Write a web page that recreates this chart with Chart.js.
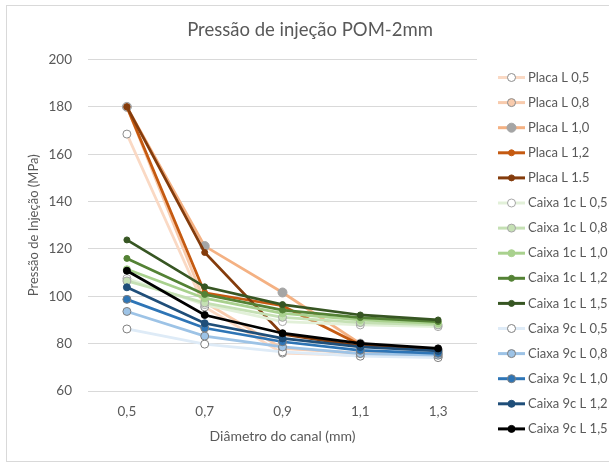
<!DOCTYPE html>
<html>
<head>
<meta charset="utf-8">
<script src="https://cdn.jsdelivr.net/npm/chart.js@4.4.1/dist/chart.umd.min.js"></script>
<style>
  html, body { margin: 0; padding: 0; background: #fff; }
</style>
</head>
<body>
<canvas id="grafico" width="609" height="463"></canvas>
<script>
// diâmetros do canal (eixo x)
const diametros = ['0,5', '0,7', '0,9', '1,1', '1,3'];

// pressão de injeção (MPa)
const placaL05 = [168.5, 95.5, 76, 75, 74.5];
const placaL08 = [180, 97.5, 78, 76, 75.5];
const placaL10 = [180, 121.2, 101.6, 80, 77];
const placaL12 = [180, 101.5, 96, 79.5, 77.5];
const placaL15 = [180, 118.5, 84, 79, 77.5];

const caixa1cL05 = [107.5, 96.5, 89.3, 87.9, 87.2];
const caixa1cL08 = [106.5, 97.2, 91.1, 88.9, 87.9];
const caixa1cL10 = [111.4, 99.2, 92.8, 90, 88.6];
const caixa1cL12 = [116, 100.8, 94.2, 91, 89.3];
const caixa1cL15 = [123.8, 104, 96.5, 92.1, 90];

const caixa9cL05 = [86.2, 79.8, 76.5, 74.7, 74.1];
const caixa9cL08 = [93.6, 83.2, 78.6, 75.8, 75.1];
const caixa9cL10 = [98.7, 86.6, 80.8, 77.2, 75.9];
const caixa9cL12 = [103.8, 88.6, 82.2, 78.6, 76.9];
const caixa9cL15 = [110.8, 92.1, 84.4, 80.1, 78];

const titulo = 'Pressão de injeção POM-2mm';
const fonte = 'Lato';
const corTexto = '#595959';

function serie(label, data, linha, fundo, borda, raio) {
  return {
    label: label,
    data: data,
    borderColor: linha,
    backgroundColor: linha,
    borderWidth: 2.75,
    pointRadius: raio,
    pointBackgroundColor: fundo,
    pointBorderColor: borda,
    pointBorderWidth: 1,
    tension: 0,
    fill: false
  };
}

const series = [
  serie('Placa L 0,5', placaL05, '#FAD9C4', '#ffffff', '#8c8c8c', 4),
  serie('Placa L 0,8', placaL08, '#F8CBAD', '#F8CBAD', '#8c8c8c', 4),
  serie('Placa L 1,0', placaL10, '#F4B183', '#A5A5A5', '#A5A5A5', 4.5),
  serie('Placa L 1,2', placaL12, '#C55A11', '#C55A11', '#C55A11', 3),
  serie('Placa L 1.5', placaL15, '#843C0C', '#843C0C', '#843C0C', 3),
  serie('Caixa 1c L 0,5', caixa1cL05, '#E2F0D9', '#ffffff', '#a6a6a6', 4),
  serie('Caixa 1c L 0,8', caixa1cL08, '#C5E0B4', '#C5E0B4', '#a6a6a6', 4),
  serie('Caixa 1c L 1,0', caixa1cL10, '#A9D18E', '#A9D18E', '#A9D18E', 3.5),
  serie('Caixa 1c L 1,2', caixa1cL12, '#548235', '#548235', '#548235', 3),
  serie('Caixa 1c L 1,5', caixa1cL15, '#375623', '#375623', '#375623', 3),
  serie('Caixa 9c L 0,5', caixa9cL05, '#DEEBF7', '#ffffff', '#7f7f7f', 4),
  serie('Ciaxa 9c L 0,8', caixa9cL08, '#9DC3E6', '#9DC3E6', '#7f7f7f', 4),
  serie('Caixa 9c L 1,0', caixa9cL10, '#2E75B6', '#2E75B6', '#7f7f7f', 4),
  serie('Caixa 9c L 1,2', caixa9cL12, '#1F4E79', '#1F4E79', '#1F4E79', 3.5),
  serie('Caixa 9c L 1,5', caixa9cL15, '#000000', '#000000', '#000000', 3.5)
];
// como no Excel: a primeira série fica por baixo
series.forEach((s, i) => { s.order = series.length - i; });

// título centrado no gráfico todo, legenda à direita e moldura
const legendaLateral = {
  id: 'legendaLateral',
  afterDraw(chart) {
    const ctx = chart.ctx;
    ctx.save();
    ctx.fillStyle = corTexto;
    ctx.font = '18.5px ' + fonte;
    ctx.textAlign = 'center';
    ctx.textBaseline = 'middle';
    ctx.fillText(titulo, 310, 30);

    chart.data.datasets.forEach((ds, i) => {
      const y = 77.5 + i * 25.1;
      ctx.strokeStyle = ds.borderColor;
      ctx.lineWidth = 3;
      ctx.beginPath();
      ctx.moveTo(498, y);
      ctx.lineTo(525, y);
      ctx.stroke();
      ctx.beginPath();
      ctx.arc(511.5, y, ds.pointRadius, 0, Math.PI * 2);
      ctx.fillStyle = ds.pointBackgroundColor;
      ctx.fill();
      ctx.lineWidth = 1;
      ctx.strokeStyle = ds.pointBorderColor;
      ctx.stroke();
      ctx.fillStyle = corTexto;
      ctx.font = '13px ' + fonte;
      ctx.textBaseline = 'middle';
      ctx.textAlign = 'left';
      ctx.fillText(ds.label, 528, y);
    });
    ctx.strokeStyle = '#d9d9d9';
    ctx.lineWidth = 1;
    ctx.strokeRect(6.5, 5.5, 700, 456);
    ctx.restore();
  }
};

new Chart(document.getElementById('grafico'), {
  type: 'line',
  data: { labels: diametros, datasets: series },
  plugins: [legendaLateral],
  options: {
    responsive: false,
    animation: false,
    devicePixelRatio: 1,
    layout: { padding: { left: 20, right: 132, top: 59.5, bottom: 14 } },
    plugins: {
      legend: { display: false },
      tooltip: { enabled: false },
      title: { display: false }
    },
    scales: {
      x: {
        offset: true,
        afterFit(s) { s.height = 58; },
        grid: { display: false, drawTicks: false, offset: true },
        border: { display: true, color: '#d9d9d9' },
        ticks: { color: corTexto, padding: 13, font: { family: fonte, size: 13.5 } },
        title: {
          display: true,
          text: 'Diâmetro do canal (mm)',
          color: corTexto,
          font: { family: fonte, size: 14 },
          padding: { top: 4, bottom: 4 }
        }
      },
      y: {
        min: 60,
        max: 200,
        afterFit(s) { s.width = 68; },
        grid: { color: '#d9d9d9', drawTicks: false },
        border: { display: false },
        ticks: { stepSize: 20, color: corTexto, padding: 16, font: { family: fonte, size: 13.5 } },
        title: {
          display: true,
          text: 'Pressão de Injeção (MPa)',
          color: corTexto,
          font: { family: fonte, size: 13 },
          padding: { top: 6, bottom: 0 }
        }
      }
    }
  }
});
</script>
</body>
</html>
